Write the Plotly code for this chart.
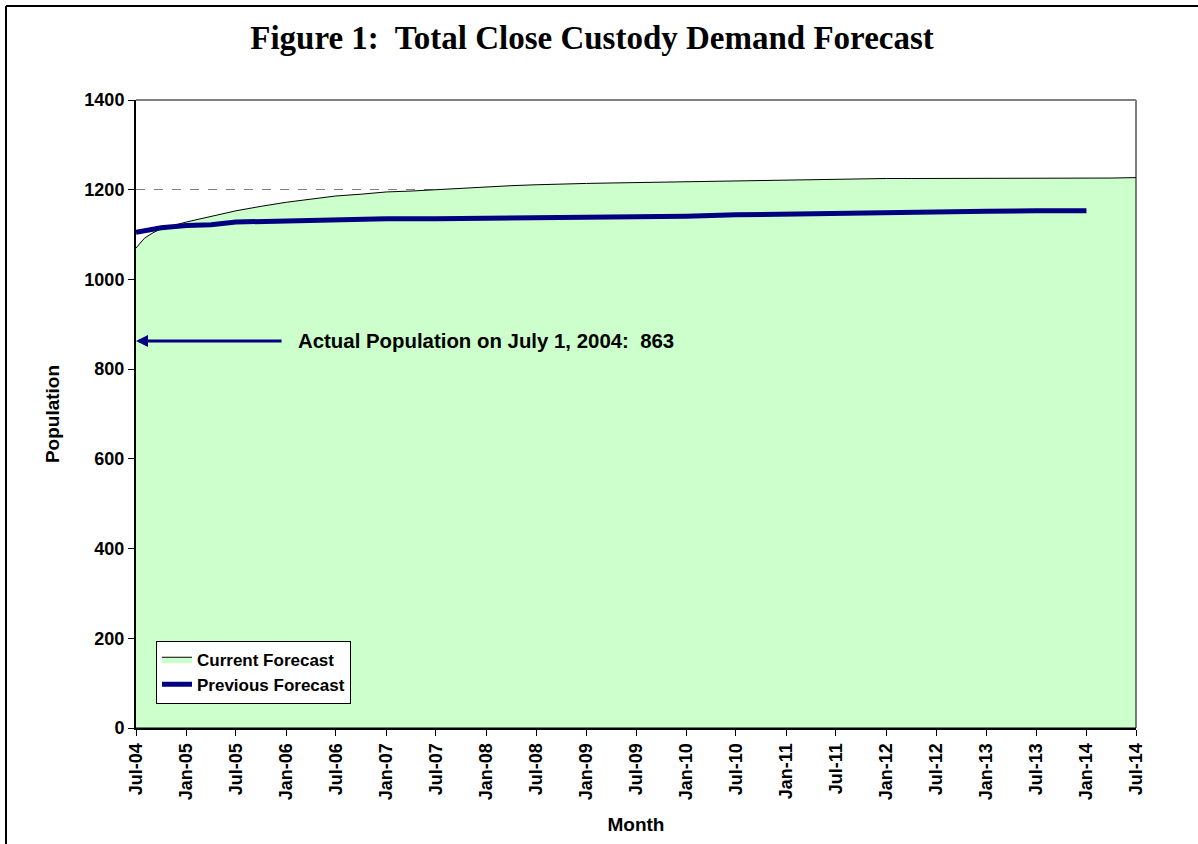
import plotly.graph_objects as go

# ---- data ----
current_dates = [
    "2004-07-01", "2004-08-01", "2004-09-01", "2004-10-01", "2005-01-01", "2005-04-01",
    "2005-07-01", "2005-10-01", "2006-01-01", "2006-04-01", "2006-07-01", "2006-10-01",
    "2007-01-01", "2007-04-01", "2007-07-01", "2007-10-01", "2008-01-01", "2008-04-01",
    "2008-07-01", "2008-10-01", "2009-01-01", "2009-04-01", "2009-07-01", "2009-10-01",
    "2010-01-01", "2010-04-01", "2010-07-01", "2010-10-01", "2011-01-01", "2011-04-01",
    "2011-07-01", "2011-10-01", "2012-01-01", "2012-04-01", "2012-07-01", "2012-10-01",
    "2013-01-01", "2013-04-01", "2013-07-01", "2013-10-01", "2014-01-01", "2014-04-01",
    "2014-07-01",
]
current_values = [
    1070, 1092, 1104, 1113, 1128, 1141,
    1153, 1163, 1172, 1179, 1186, 1190,
    1195, 1197, 1200, 1204, 1207, 1209,
    1211, 1213, 1214, 1215, 1216, 1217,
    1218, 1218, 1219, 1220, 1221, 1223,
    1224, 1225, 1225, 1225, 1225, 1226,
    1226, 1226, 1226, 1226, 1226, 1226,
    1227,
]
previous_dates = [
    "2004-07-01", "2004-10-01", "2005-01-01", "2005-04-01", "2005-07-01", "2006-01-01",
    "2006-07-01", "2007-01-01", "2007-07-01", "2008-01-01", "2008-07-01", "2009-01-01",
    "2009-07-01", "2010-01-01", "2010-07-01", "2011-01-01", "2011-07-01", "2012-01-01",
    "2012-07-01", "2013-01-01", "2013-07-01", "2014-01-01",
]
previous_values = [
    1105, 1115, 1120, 1122, 1128, 1131,
    1134, 1135, 1135, 1136, 1137, 1138,
    1139, 1141, 1144, 1146, 1148, 1149,
    1151, 1152, 1153, 1153,
]
actual_date = "2004-07-01"
actual_population = 863

y_ticks = [0, 200, 400, 600, 800, 1000, 1200, 1400]

SANS = "Liberation Sans, Arial, sans-serif"
SERIF = "Liberation Serif, Times New Roman, serif"

# closed polygon for the area (baseline at zero)
area_x = current_dates + [current_dates[-1], current_dates[0]]
area_y = current_values + [0, 0]

fig = go.Figure()
fig.add_trace(go.Scatter(
    x=area_x, y=area_y, name="Current Forecast",
    mode="lines", fill="toself", fillcolor="#CCFFCC",
    line=dict(color="black", width=1),
))
fig.add_trace(go.Scatter(
    x=previous_dates, y=previous_values, name="Previous Forecast",
    mode="lines", line=dict(color="#000080", width=5),
))

# arrow to actual population
fig.add_annotation(
    x=actual_date, y=actual_population, ax="2005-12-20", ay=actual_population,
    xref="x", yref="y", axref="x", ayref="y",
    text="", showarrow=True, arrowhead=2, arrowsize=0.8, arrowwidth=3,
    arrowcolor="#000080", standoff=0,
)
fig.add_annotation(
    x="2006-02-05", y=actual_population, xref="x", yref="y",
    text=f"Actual Population on July 1, 2004:  {actual_population}",
    showarrow=False, xanchor="left", yanchor="middle",
    font=dict(family=SANS, size=20.4, color="black", weight="bold"),
)

shapes = [
    # plot-area border (top and right) in grey
    dict(type="line", xref="paper", yref="paper", x0=0, x1=1, y0=1, y1=1,
         line=dict(color="#808080", width=2), layer="above"),
    dict(type="line", xref="paper", yref="paper", x0=1, x1=1, y0=0, y1=1,
         line=dict(color="#808080", width=2), layer="below"),
    # outer figure border (left and top)
    dict(type="line", xref="paper", yref="paper", x0=-0.13, x1=1.1, y0=1.1497, y1=1.1497,
         line=dict(color="black", width=2), layer="above"),
    dict(type="line", xref="paper", yref="paper", x0=-0.13, x1=-0.13, y0=-0.2, y1=1.1497,
         line=dict(color="black", width=2), layer="above"),
]

fig.update_layout(
    width=1198, height=844,
    margin=dict(l=136, r=62, t=100, b=116),
    paper_bgcolor="white", plot_bgcolor="white",
    title=dict(
        text="Figure 1:  Total Close Custody Demand Forecast",
        x=592 / 1198, xref="container", xanchor="center",
        y=1 - 37 / 844, yref="container", yanchor="middle",
        font=dict(family=SERIF, size=33, color="black", weight="bold"),
    ),
    shapes=shapes,
    showlegend=True,
    legend=dict(
        x=0.02, y=0.139, xanchor="left", yanchor="top",
        bgcolor="white", bordercolor="black", borderwidth=1,
        font=dict(family=SANS, size=17, color="black", weight="bold"),
        tracegroupgap=0, itemwidth=30,
    ),
    xaxis=dict(
        type="date",
        range=["2004-07-01", "2014-07-01"],
        tick0="2004-07-01", dtick="M6", tickformat="%b-%y",
        tickangle=-90,
        ticks="outside", ticklen=6, tickcolor="black", tickwidth=1,
        showline=True, linecolor="black", linewidth=2,
        showgrid=False, zeroline=False,
        tickfont=dict(family=SANS, size=18, color="black", weight="bold"),
        title=dict(text="Month", standoff=18,
                   font=dict(family=SANS, size=19, color="black", weight="bold")),
    ),
    yaxis=dict(
        range=[0, 1400],
        tickvals=y_ticks,
        ticks="outside", ticklen=6, tickcolor="black", tickwidth=1,
        showline=True, linecolor="black", linewidth=2,
        showgrid=True, gridcolor="#808080", griddash="dash", gridwidth=1,
        zeroline=False,
        tickfont=dict(family=SANS, size=18, color="black", weight="bold"),
        title=dict(text="Population", standoff=20,
                   font=dict(family=SANS, size=19, color="black", weight="bold")),
    ),
)

fig.write_html("out.html")
